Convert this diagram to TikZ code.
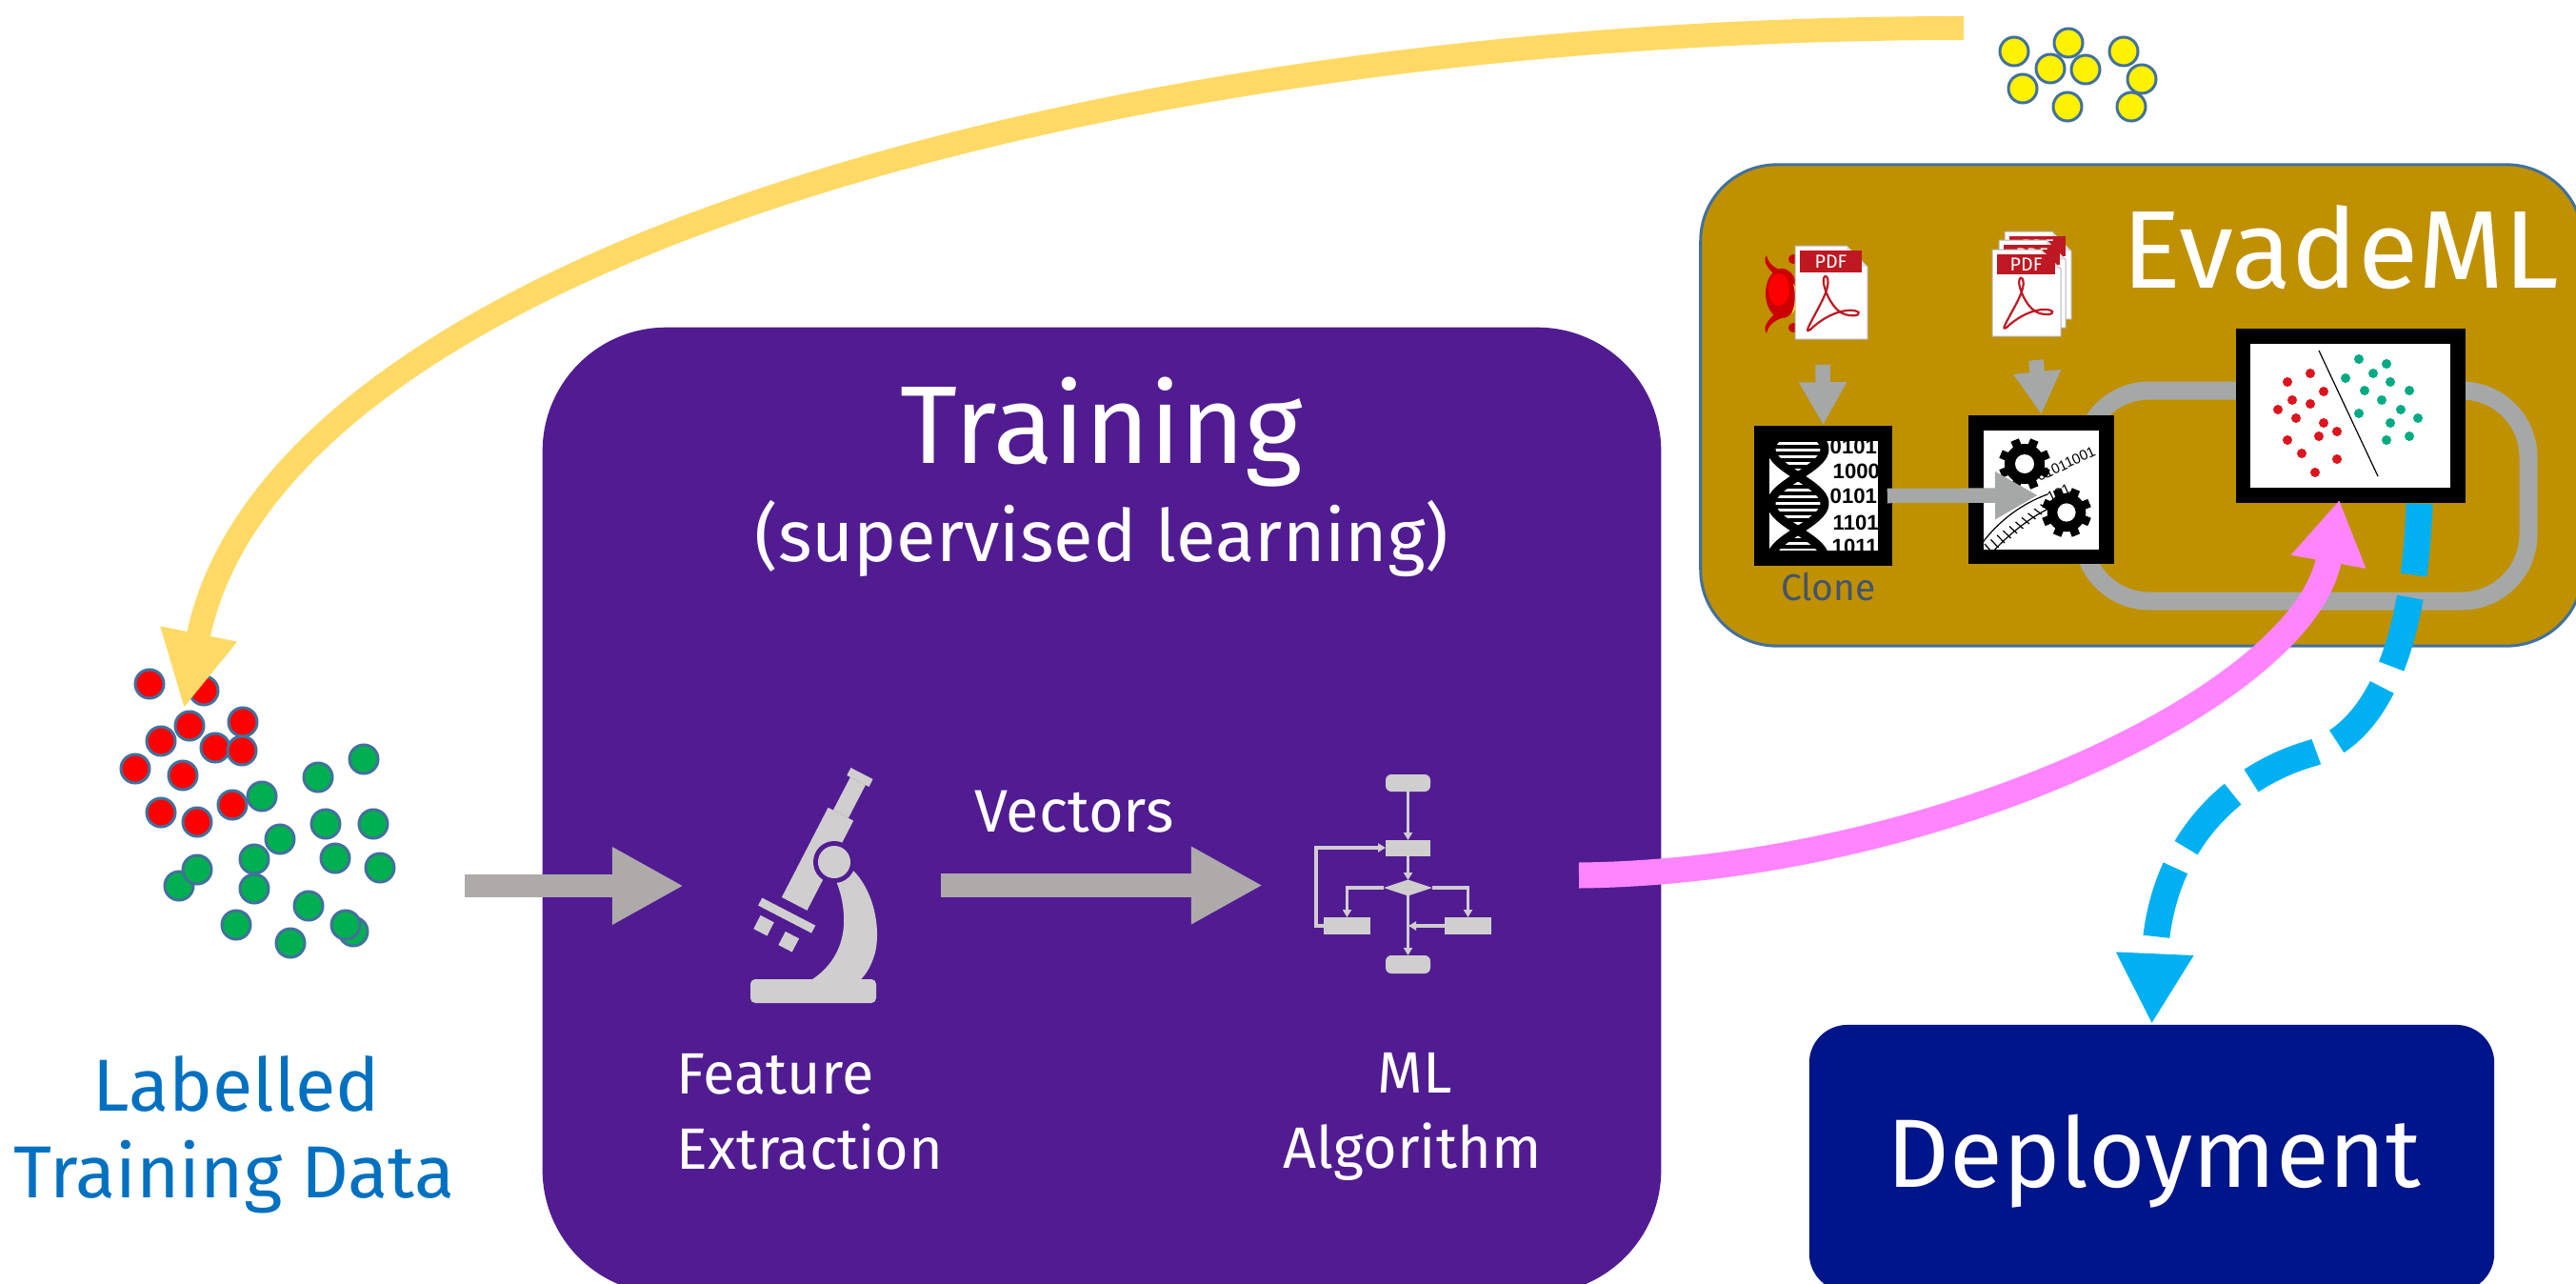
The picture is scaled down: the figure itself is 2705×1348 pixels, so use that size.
\documentclass[tikz,border=0pt]{standalone}
\usepackage{fontspec}
\setmainfont{Fira Sans}
\newfontfamily\arialfont{Liberation Sans}
\usetikzlibrary{arrows.meta, positioning, calc}

\definecolor{trainpurple}{RGB}{81,28,145}
\definecolor{evadegold}{RGB}{191,144,0}
\definecolor{deploynavy}{RGB}{0,21,137}
\definecolor{edgeblue}{RGB}{65,113,156}
\definecolor{seedyellow}{RGB}{255,217,102}
\definecolor{attackpink}{RGB}{255,133,255}
\definecolor{feedcyan}{RGB}{0,176,240}
\definecolor{pipegray}{RGB}{174,170,170}
\definecolor{loopgray}{RGB}{165,168,166}
\definecolor{icongray}{RGB}{208,206,206}
\definecolor{datablue}{RGB}{0,112,192}
\definecolor{clonegray}{RGB}{68,84,106}
\definecolor{malred}{RGB}{255,0,0}
\definecolor{bengreen}{RGB}{0,176,80}
\definecolor{pdfred}{RGB}{190,25,35}
\definecolor{scatred}{RGB}{220,20,30}
\definecolor{scatteal}{RGB}{0,170,130}

\tikzset{
  % --- boxes ------------------------------------------------
  trainbox/.style={fill=trainpurple, rounded corners=1.3cm, inner sep=0pt},
  evadebox/.style={fill=evadegold, draw=edgeblue, line width=0.03cm,
    rounded corners=0.8cm, inner sep=0pt},
  deploybox/.style={fill=deploynavy, rounded corners=0.4cm, inner sep=0pt},
  iconframe/.style={fill=black, inner sep=0pt},
  % --- text -------------------------------------------------
  bigtitle/.style={text=white, font=\fontsize{33}{40}\selectfont, inner sep=0pt},
  subtitle/.style={text=white, font=\fontsize{21.6}{26}\selectfont,
    inner sep=0pt, anchor=base},
  steplbl/.style={text=white, font=\fontsize{17.4}{21}\selectfont, inner sep=0pt},
  veclbl/.style={text=white, font=\fontsize{17.9}{21}\selectfont,
    inner sep=0pt, anchor=base},
  datalbl/.style={text=datablue, font=\fontsize{22}{27}\selectfont,
    inner sep=0pt, anchor=base},
  deploylbl/.style={text=white, font=\fontsize{29}{35}\selectfont,
    inner sep=0pt, anchor=base},
  clonelbl/.style={text=clonegray, font=\fontsize{11.1}{13}\selectfont,
    inner sep=0pt, anchor=base},
  bits/.style={font=\arialfont\bfseries\fontsize{6.3}{7}\selectfont,
    inner sep=0pt, anchor=base west},
  tinybits/.style={font=\arialfont\fontsize{4.3}{5}\selectfont,
    inner sep=0pt, anchor=base west},
  pdftag/.style={text=white, font=\fontsize{5.6}{6}\selectfont, inner sep=0pt},
  % --- dots -------------------------------------------------
  datadot/.style={circle, draw=edgeblue, line width=0.03cm,
    minimum size=0.3cm, inner sep=0pt},
  maldot/.style={datadot, fill=malred},
  bendot/.style={datadot, fill=bengreen},
  seeddot/.style={datadot, fill=yellow},
  % --- arrows -----------------------------------------------
  pipearrow/.style={draw=pipegray, line width=0.245cm,
    -{Triangle[length=0.75cm, width=0.76cm]}},
  evpipe/.style={draw=loopgray, line width=0.155cm,
    -{Triangle[length=0.45cm, width=0.47cm]}},
  seedarrow/.style={draw=seedyellow, line width=0.25cm,
    -{Triangle[length=0.8cm, width=0.76cm]}},
  attack/.style={draw=attackpink, line width=0.27cm,
    -{Triangle[length=0.66cm, width=0.75cm]}},
  feedback/.style={draw=feedcyan, line width=0.28cm,
    dash pattern=on 0.75cm off 0.24cm, -{Triangle[length=0.74cm, width=0.76cm]}},
  loopline/.style={draw=loopgray, line width=0.19cm, rounded corners=0.7cm},
  flowline/.style={draw=icongray, line width=0.035cm},
  flowarr/.style={flowline, -{Triangle[length=0.08cm, width=0.09cm]}},
  swoosh/.style={draw=pdfred, line width=0.022cm}
}

% one pdf sheet, drawn in a 76 x 98 frame
\newcommand{\pdfsheet}[4]{%
  \begin{scope}[shift={#1}, xscale=#2/76, yscale=#3/98]
    \filldraw[fill=white, draw=black!30, line width=0.01cm]
      (0,0) -- (54,0) -- (76,22) -- (76,98) -- (0,98) -- cycle;
    \fill[black!12] (54,0) -- (54,22) -- (76,22) -- cycle;
    \fill[pdfred] (5,5) rectangle (70,28);
    \node[pdftag] (#4) at (37.5,16.5) {PDF};
    \draw[swoosh] (33,32) .. controls (38,40) and (30,55) .. (22,70)
      .. controls (14,85) and (10,92) .. (16,88)
      .. controls (26,78) and (45,66) .. (62,68)
      .. controls (72,70) and (66,76) .. (52,72)
      .. controls (40,68) and (32,50) .. (30,40)
      .. controls (29,34) and (31,31) .. (33,32);
  \end{scope}}

% a black gear
\newcommand{\gearwheel}[2]{%
  \fill[black] #1 circle (#2*0.78cm);
  \foreach \a in {0,45,...,315}
    \fill[black, shift={#1}, rotate=\a+22.5] (-0.045cm,0) rectangle (0.045cm,#2*1cm);
  \fill[white] #1 circle (#2*0.37cm);}

\begin{document}
\begin{tikzpicture}[x=0.01cm, y=-0.01cm]
\useasboundingbox (0,0) rectangle (2705,1348);
\clip (0,0) rectangle (2705,1348);

% --- big boxes ---------------------------------------------------
\node[trainbox, minimum width=11.74cm, minimum height=10.14cm] (training) at (1157,851) {};
\node[evadebox, minimum width=9.26cm, minimum height=5.05cm] (evademl) at (2249,425.5) {};
\node[deploybox, minimum width=7.19cm, minimum height=2.80cm] (deploy) at (2259.5,1216) {};

\node[bigtitle, anchor=base] (traintitle) at (1157,486) {Training};
\node[subtitle] (trainsub) at (1157,589) {(supervised learning)};
\node[bigtitle, anchor=base west] (evadetitle) at (2228,302) {EvadeML};
\node[deploylbl] (deploytitle) at (2262,1246) {Deployment};

% --- labelled training data ----------------------------------------
\foreach \p [count=\i] in {(157,718),(214,725),(199,762),(255,758),(169,778),(226,785),
    (254,788),(142,807),(192,814),(169,853),(207,863),(244,845)}
  \node[maldot] (mal\i) at \p {};
\foreach \p [count=\i] in {(382,797),(334,816),(275,836),(342,865),(392,865),(294,881),
    (352,901),(399,911),(188,930),(207,913),(267,902),(267,933),(324,951),(248,971),
    (305,990),(371,978),(363,971)}
  \node[bendot] (ben\i) at \p {};

\node[datalbl] (dataA) at (248,1166) {Labelled};
\node[datalbl] (dataB) at (246,1257) {Training Data};

% --- microscope --------------------------------------------------
\begin{scope}[fill=icongray]
  \fill (893.4,806.0) -- (916.6,818.0) -- (912.5,826.0) -- (889.3,814.0) -- cycle;
  \fill (892.9,815.9) -- (908.9,824.1) -- (890.9,858.8) -- (874.9,850.5) -- cycle;
  \fill (869.6,847.8) -- (896.2,861.6) -- (847.5,955.8) -- (820.9,942.0) -- cycle;
  \fill (800.3,942.6) -- (856.3,971.6) -- (852.1,979.6) -- (796.1,950.6) -- cycle;
  \fill (798.6,960.9) -- (812.8,968.3) -- (805.5,982.5) -- (791.3,975.1) -- cycle;
  \fill (824.8,977.9) -- (839.1,985.3) -- (831.7,999.5) -- (817.4,992.1) -- cycle;
  \fill (895,913) .. controls (918,935) and (925,975) .. (919,1000)
    .. controls (915,1015) and (908,1025) .. (902,1030) -- (850,1030)
    .. controls (875,1015) and (888,990) .. (886,960)
    .. controls (885,945) and (882,935) .. (878,925) -- cycle;
  \fill[trainpurple] (876,905) circle (0.22cm);
  \fill (876,905) circle (0.17cm);
  \fill[rounded corners=0.05cm] (788,1053) -- (788,1028) -- (920,1028) -- (920,1053) -- cycle;
\end{scope}

\node[steplbl, anchor=base west] (featA) at (710,1148) {Feature};
\node[steplbl, anchor=base west] (featB) at (710,1227) {Extraction};

% --- flowchart ---------------------------------------------------
\begin{scope}[fill=icongray]
  \fill[rounded corners=0.06cm] (1455,813) rectangle (1502,831);
  \fill (1455,882) rectangle (1502,899);
  \fill (1453,932) -- (1478.5,923.5) -- (1504,932) -- (1478.5,940.5) -- cycle;
  \fill (1390,963) rectangle (1439,981);
  \fill (1517,963) rectangle (1566,981);
  \fill[rounded corners=0.06cm] (1455,1003) rectangle (1502,1022);
\end{scope}
\draw[flowarr] (1478.5,831) -- (1478.5,882);
\draw[flowarr] (1478.5,899) -- (1478.5,924);
\draw[flowarr] (1453,932) -- (1414.5,932) -- (1414.5,963);
\draw[flowarr] (1504,932) -- (1541.5,932) -- (1541.5,963);
\draw[flowarr] (1517,972) -- (1479,972);
\draw[flowarr] (1478.5,940) -- (1478.5,1003);
\draw[flowarr] (1390,972) -- (1382,972) -- (1382,890) -- (1455,890);

\node[steplbl, anchor=base] (algA) at (1486,1147) {ML};
\node[steplbl, anchor=base] (algB) at (1483,1226) {Algorithm};

% --- training pipeline arrows ------------------------------------
\coordinate (dataout) at (488,930);
\coordinate (featin) at (718,930);
\coordinate (vecout) at (988,929.5);
\coordinate (algin) at (1326,929.5);
\draw[pipearrow] (dataout) -- (featin);
\draw[pipearrow] (vecout) -- (algin);
\node[veclbl] (veclabel) at (1128,873) {Vectors};

% --- EvadeML loop --------------------------------------------------
\draw[loopline] (2187,410) rectangle (2655,631);

% malicious seed pdf with its bug
\begin{scope}[shift={(1885,258)}]
  \fill[red!80!black] (-14,50) ellipse [x radius=0.17cm, y radius=0.26cm];
  \fill[red] (-17,46) ellipse [x radius=0.11cm, y radius=0.17cm];
  \fill[yellow] (-2,40) .. controls (7,50) and (5,62) .. (-4,72)
    .. controls (1,60) and (1,50) .. (-2,40);
  \fill[red!80!black] (-22,30) .. controls (-30,22) and (-34,16) .. (-30,10)
    .. controls (-28,20) and (-20,24) .. (-12,27) -- cycle;
  \fill[red!80!black] (-22,72) .. controls (-30,80) and (-34,86) .. (-30,92)
    .. controls (-28,82) and (-20,78) .. (-12,75) -- cycle;
  \fill[red!80!black] (-2,14) circle (0.05cm);
  \fill[red!80!black] (-2,86) circle (0.05cm);
\end{scope}
\pdfsheet{(1885,258)}{76}{98}{maltag}

% benign pdf stack
\pdfsheet{(2105,243)}{70}{92}{bentagC}
\pdfsheet{(2099,252)}{70}{92}{bentagB}
\pdfsheet{(2092,262)}{72}{91}{bentagA}

% clone box
\node[iconframe, minimum width=1.45cm, minimum height=1.47cm] (clone) at (1914.5,520.5) {};
\fill[white] (1858,463) rectangle (1972,578);
\begin{scope}
  \clip (1858,463) rectangle (1972,578);
  \foreach \y in {462,469,...,582}
    \draw[line width=0.035cm] ({1888-28*cos(3.1579*(\y-471.5))},\y)
      -- ({1888+28*cos(3.1579*(\y-471.5))},\y);
  \draw[line width=0.09cm] plot[domain=455:585, samples=60, smooth]
    ({1888+28*cos(3.1579*(\x-471.5))},\x);
  \draw[line width=0.09cm] plot[domain=455:585, samples=60, smooth]
    ({1888-28*cos(3.1579*(\x-471.5))},\x);
  \node[bits] (bitsA) at (1921,476) {0101};
  \node[bits] (bitsB) at (1924,502) {1000};
  \node[bits] (bitsC) at (1921,528) {0101};
  \node[bits] (bitsD) at (1924,556) {1101};
  \node[bits] (bitsE) at (1923,581) {1011};
\end{scope}
\node[clonelbl] (clonelabel) at (1920,630) {Clone};

% mutation box
\node[iconframe, minimum width=1.53cm, minimum height=1.56cm] (mutate) at (2143.5,514) {};
\fill[white] (2083,452) rectangle (2204,577);
\begin{scope}
  \clip (2083,452) rectangle (2204,577);
  \draw[line width=0.012cm] (2080,572) .. controls (2100,545) and (2125,528) .. (2150,519);
  \draw[line width=0.012cm] (2090,582) .. controls (2110,560) and (2135,540) .. (2160,530);
  \foreach \k in {0,...,9}
    \draw[line width=0.012cm] ({2084+6.5*\k},{571-4.6*\k}) -- ({2092+6.5*\k},{580-5*\k});
  \node[tinybits, rotate=25] (mutbitsA) at (2141,506) {01011001};
  \node[tinybits, rotate=25] (mutbitsB) at (2152,528) {101};
  \gearwheel{(2126,487)}{0.27}
  \gearwheel{(2170,538)}{0.26}
\end{scope}

% classifier box
\node[iconframe, minimum width=2.41cm, minimum height=1.83cm] (scatter) at (2468.5,436.5) {};
\fill[white] (2363,361) rectangle (2573,512);
\draw[line width=0.012cm] (2435,368) -- (2497,500);
\foreach \p in {(2426,392),(2402,401),(2440,411),(2407,420),(2426,424),(2392,430),(2411,439),
    (2440,444),(2454,453),(2435,458),(2402,462),(2417,476),(2454,482),(2431,496)}
  \fill[scatred] \p circle (0.05cm);
\foreach \p in {(2477,377),(2506,382),(2492,392),(2463,397),(2510,401),(2483,410),(2530,410),
    (2501,420),(2521,430),(2477,434),(2539,439),(2510,444),(2530,458),(2506,462)}
  \fill[scatteal] \p circle (0.05cm);

% feeding arrows inside EvadeML
\coordinate (malout) at (1914,383);
\coordinate (benout) at (2138,378);
\coordinate (mutin) at (2140,520);
\draw[evpipe] (malout) -- (clone.north);
\draw[evpipe] (benout) -- (mutate.north);
\draw[evpipe] ([xshift=-0.06cm]clone.east) -- (mutin);

% --- seeds ---------------------------------------------------------
\foreach \p [count=\i] in {(2115,54),(2172,45),(2153,72),(2190,73),(2124,93),(2171,112),
    (2230,54),(2249,83),(2238,112)}
  \node[seeddot] (seed\i) at \p {};

% --- long connectors -----------------------------------------------
\coordinate (algout) at (1658,919);
\coordinate (seedout) at (2062,29.5);
\coordinate (datain) at (193,744);
\draw[attack] (algout) .. controls (2030,915) and (2420,730)
  .. ([xshift=-0.12cm, yshift=0.04cm]scatter.south);
\draw[feedback] ([xshift=0.72cm]scatter.south) .. controls (2535,690) and (2490,770) .. (2430,790)
  .. controls (2350,812) and (2268,880) .. (deploy.north);
\draw[seedarrow] (seedout) .. controls (1162,29.5) and (287,274) .. (datain);

\end{tikzpicture}
\end{document}
